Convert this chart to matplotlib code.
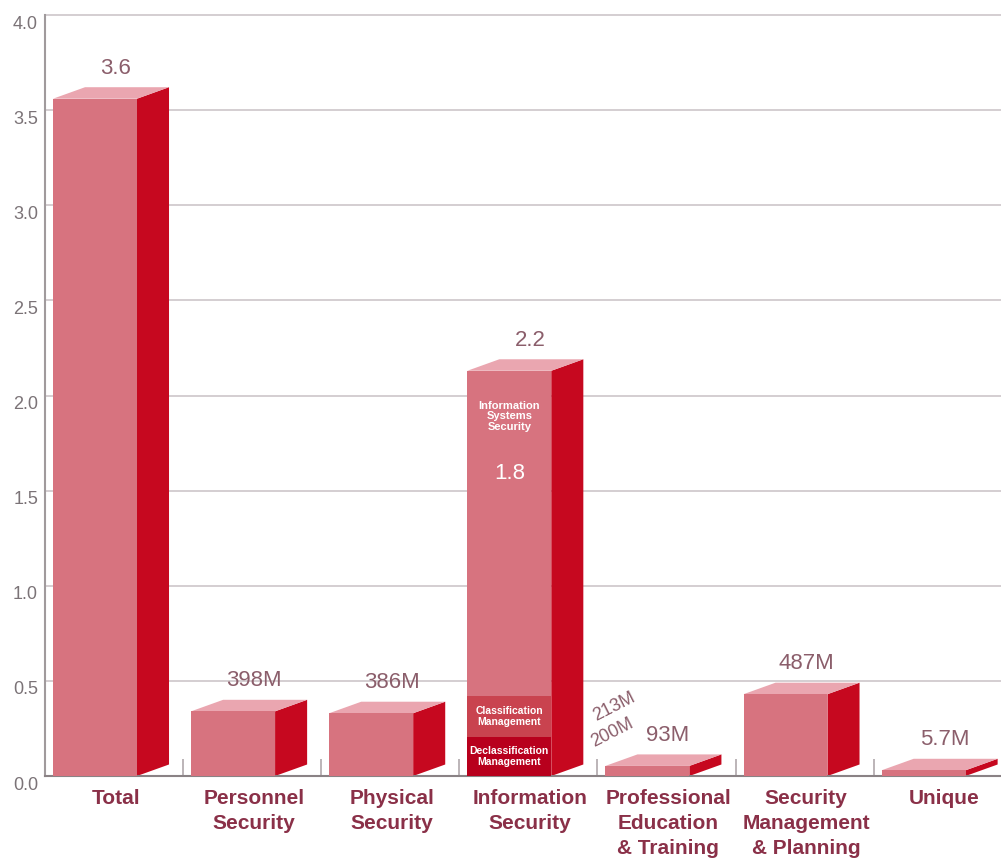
import matplotlib
matplotlib.use('Agg')
import matplotlib.pyplot as plt
from matplotlib.patches import Polygon
from matplotlib.transforms import ScaledTranslation
import numpy as np

# data (billions of dollars)
categories = ['Total', 'Personnel\nSecurity', 'Physical\nSecurity', 'Information\nSecurity',
              'Professional\nEducation\n& Training', 'Security\nManagement\n& Planning', 'Unique']
heights = [3.56, 0.34, 0.33, 2.13, 0.053, 0.43, 0.03]   # front face heights
value_labels = ['3.6', '398M', '386M', '2.2', '93M', '487M', '5.7M']

# information security breakdown (bottom up)
info_parts = [0.205, 0.215]
info_part_labels = ['200M', '213M']
info_part_names = ['Declassification\nManagement', 'Classification\nManagement']
info_sub_name = 'Information\nSystems\nSecurity'
info_sub_value = '1.8'

yticks = [0.0, 0.5, 1.0, 1.5, 2.0, 2.5, 3.0, 3.5, 4.0]

FRONT = '#d7737f'
SIDE = '#c6081f'
TOP = '#eaa6b0'
CLASS_C = '#c9434f'
DECLASS_C = '#b8001d'
LABEL_C = '#8a3048'
VAL_C = '#8b5e6b'
TICK_C = '#7b7377'

W = 0.608     # front width
DX = 0.232    # depth in x
DY = 0.0605   # depth in y

plt.rcParams['font.family'] = ['Liberation Sans', 'DejaVu Sans']

fig = plt.figure(figsize=(10.01, 8.63), dpi=100)
ax = fig.add_axes([0.04496, 0.10081, 0.95504, 0.8818])
ax.set_xlim(-0.362, 6.5604)
ax.set_ylim(0, 4.0)

for y in yticks[1:]:
    ax.axhline(y, color='#cdc6c9', lw=1.2, zorder=0, clip_on=False)

x = np.arange(len(categories))

for i in range(len(categories)):
    h = heights[i]
    xl = x[i] - W / 2
    xr = x[i] + W / 2
    side = Polygon([(xr, 0), (xr + DX, DY), (xr + DX, h + DY), (xr, h)],
                   closed=True, facecolor=SIDE, edgecolor='none', zorder=2)
    top = Polygon([(xl, h), (xl + DX, h + DY), (xr + DX, h + DY), (xr, h)],
                  closed=True, facecolor=TOP, edgecolor='none', zorder=2)
    ax.add_patch(side)
    ax.add_patch(top)
    ax.bar(x[i], h, width=W, color=FRONT, zorder=3)
    ax.text(x[i] + 0.15, h + DY + 0.045, value_labels[i], ha='center', va='bottom',
            fontsize=16, color=VAL_C, zorder=5)

# stacked parts of information security bar
k = 3
bottom = 0
for part, col, name in zip(info_parts, [DECLASS_C, CLASS_C], info_part_names):
    ax.bar(x[k], part, bottom=bottom, width=W, color=col, zorder=4)
    ax.text(x[k], bottom + part / 2, name, ha='center', va='center', fontsize=7.5,
            fontweight='bold', color='white', linespacing=1.05, zorder=5)
    bottom += part

ax.text(x[k] + W / 2 + DX + 0.21, info_parts[0] + 0.02, info_part_labels[0], ha='center',
        va='center', rotation=27, fontsize=13, color=VAL_C)
ax.text(x[k] + W / 2 + DX + 0.22, info_parts[0] + info_parts[1] - 0.055, info_part_labels[1],
        ha='center', va='center', rotation=27, fontsize=13, color=VAL_C)

ax.text(x[k], 1.89, info_sub_name, ha='center', va='center', fontsize=8,
        fontweight='bold', color='white', linespacing=1.1, zorder=5)
ax.text(x[k], 1.59, info_sub_value, ha='center', va='center', fontsize=16,
        color='white', zorder=5)

# axes styling
for s in ['top', 'right']:
    ax.spines[s].set_visible(False)
ax.spines['left'].set_color('#a09a9c')
ax.spines['left'].set_linewidth(1.5)
ax.spines['bottom'].set_color('#8a8285')
ax.spines['bottom'].set_linewidth(1.5)

ax.set_yticks(yticks)
ax.set_yticklabels(['%.1f' % v for v in yticks], fontsize=13, color=TICK_C)
ax.tick_params(axis='y', length=0, pad=5)
for lab in ax.get_yticklabels():
    lab.set_transform(lab.get_transform() + ScaledTranslation(0, -7 / 100, fig.dpi_scale_trans))

ax.set_xticks(x + 0.15)
ax.set_xticklabels(categories, fontsize=15, fontweight='bold', color=LABEL_C, linespacing=1.4)
ax.tick_params(axis='x', length=0, pad=9)
ax.set_xticks(x - 0.362, minor=True)
ax.tick_params(axis='x', which='minor', direction='in', length=12, color='#b0a8ab', width=1.2)

fig.savefig('out.png', dpi=100)
